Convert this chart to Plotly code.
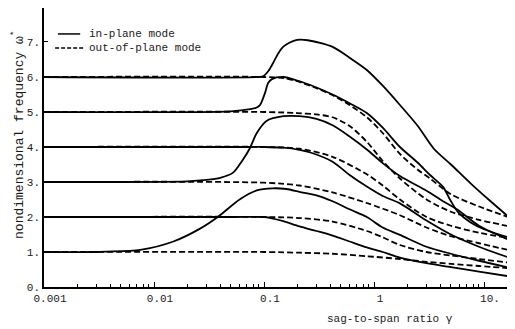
import plotly.graph_objects as go

# ---- in-plane modes (solid) ----
gamma_A = [0.001, 0.003, 0.0037, 0.0075, 0.015, 0.026, 0.038, 0.06, 0.086, 0.12, 0.16, 0.21, 0.3, 0.42, 0.6, 0.86, 1.2, 1.72, 3, 5, 9, 16.5]
freq_A = [1.0, 1.0, 1.01, 1.06, 1.3, 1.66, 2.0, 2.5, 2.76, 2.82, 2.8, 2.72, 2.62, 2.45, 2.22, 2.0, 1.7, 1.49, 1.15, 0.95, 0.75, 0.56]

gamma_B = [0.001, 0.05, 0.1, 0.115, 0.15, 0.21, 0.3, 0.42, 0.6, 0.86, 1.2, 1.72, 3, 5, 9, 16.5]
freq_B = [2.0, 2.0, 2.0, 1.97, 1.88, 1.73, 1.6, 1.47, 1.3, 1.13, 1.0, 0.84, 0.68, 0.57, 0.44, 0.31]

gamma_C = [0.001, 0.02, 0.03, 0.04, 0.052, 0.064, 0.074, 0.086, 0.106, 0.15, 0.21, 0.3, 0.42, 0.6, 0.86, 1.2, 1.72, 3, 4.24, 5.8, 9, 16.5]
freq_C = [3.0, 3.02, 3.06, 3.12, 3.26, 3.63, 3.95, 4.4, 4.75, 4.88, 4.88, 4.8, 4.62, 4.3, 3.93, 3.54, 3.17, 2.75, 2.45, 2.2, 1.75, 1.36]

gamma_D = [0.001, 0.07, 0.1, 0.15, 0.21, 0.26, 0.42, 0.6, 0.86, 1.2, 1.72, 3, 5, 9, 16.5]
freq_D = [4.0, 4.0, 4.0, 3.98, 3.92, 3.85, 3.58, 3.2, 2.87, 2.6, 2.39, 1.9, 1.5, 1.15, 0.85]

gamma_E = [0.001, 0.05, 0.075, 0.085, 0.092, 0.102, 0.109, 0.118, 0.15, 0.2, 0.3, 0.42, 0.6, 0.86, 1.2, 1.72, 2.5, 3.23, 4.24, 4.9, 5.8, 7.5, 10, 16.5]
freq_E = [5.0, 5.02, 5.08, 5.12, 5.2, 5.54, 5.83, 5.94, 6.0, 5.9, 5.7, 5.5, 5.25, 4.97, 4.55, 4.0, 3.55, 3.2, 2.86, 2.5, 2.14, 1.85, 1.65, 1.42]

gamma_F = [0.001, 0.09, 0.098, 0.11, 0.121, 0.135, 0.149, 0.17, 0.2, 0.25, 0.42, 0.6, 0.86, 1.2, 1.72, 2.5, 3.5, 5, 7.5, 11, 16.5]
freq_F = [6.0, 6.0, 6.02, 6.18, 6.4, 6.68, 6.86, 6.98, 7.06, 7.05, 6.86, 6.55, 6.2, 5.75, 5.2, 4.6, 3.95, 3.5, 2.97, 2.5, 2.02]

# ---- out-of-plane modes (dashed) ----
gamma_d1 = [0.001, 0.1, 0.21, 0.42, 0.86, 1.72, 3, 5, 9, 16.5]
freq_d1 = [1.0, 1.0, 0.98, 0.95, 0.88, 0.8, 0.72, 0.66, 0.6, 0.54]

gamma_d2 = [0.001, 0.1, 0.21, 0.42, 0.86, 1.2, 1.72, 3, 5, 9, 16.5]
freq_d2 = [2.0, 2.0, 1.97, 1.87, 1.6, 1.42, 1.2, 1.0, 0.9, 0.8, 0.7]

gamma_d3 = [0.001, 0.1, 0.21, 0.42, 0.86, 1.72, 3, 5, 9, 16.5]
freq_d3 = [3.0, 2.98, 2.9, 2.7, 2.4, 2.05, 1.7, 1.45, 1.25, 1.06]

gamma_d4 = [0.001, 0.1, 0.21, 0.42, 0.86, 1.2, 1.72, 3, 5, 9, 16.5]
freq_d4 = [4.0, 4.0, 3.95, 3.72, 3.22, 2.9, 2.5, 2.0, 1.75, 1.55, 1.4]

gamma_d5 = [0.001, 0.1, 0.2, 0.3, 0.42, 0.6, 0.86, 1.2, 1.72, 3, 5, 9, 16.5]
freq_d5 = [5.0, 5.0, 4.97, 4.93, 4.85, 4.6, 4.15, 3.6, 3.1, 2.5, 2.15, 1.92, 1.74]

gamma_d6 = [0.001, 0.1, 0.15, 0.2, 0.3, 0.42, 0.6, 0.86, 1.2, 1.72, 2.5, 3.23, 5, 9, 16.5]
freq_d6 = [6.0, 6.0, 5.97, 5.88, 5.68, 5.48, 5.2, 4.85, 4.4, 3.8, 3.35, 3.1, 2.65, 2.3, 2.0]

x_tick_vals = [0.001, 0.01, 0.1, 1, 10]
x_tick_text = ["0.001", "0.01", "0.1", "1", "10."]
y_tick_vals = [0, 1, 2, 3, 4, 5, 6, 7]
y_tick_text = ["0.", "1.", "2.", "3.", "4.", "5.", "6.", "7."]

solid = [(gamma_A, freq_A), (gamma_B, freq_B), (gamma_C, freq_C),
         (gamma_D, freq_D), (gamma_E, freq_E), (gamma_F, freq_F)]
dashed = [(gamma_d1, freq_d1), (gamma_d2, freq_d2), (gamma_d3, freq_d3),
          (gamma_d4, freq_d4), (gamma_d5, freq_d5), (gamma_d6, freq_d6)]

FONT = "Liberation Mono"
TXT = "#1a1a1a"
DASH = "6px,3px"
fig = go.Figure()

for gx, fy in dashed:
    fig.add_trace(go.Scatter(x=gx, y=fy, mode="lines", showlegend=False,
                             line=dict(color="black", width=1.8, dash=DASH, shape="spline", smoothing=0.8)))
for gx, fy in solid:
    fig.add_trace(go.Scatter(x=gx, y=fy, mode="lines", showlegend=False,
                             line=dict(color="black", width=1.8, shape="spline", smoothing=0.8)))

minor_vals = []
for dec in [0.001, 0.01, 0.1, 1, 10]:
    for m in range(2, 10):
        v = dec * m
        if v < 17:
            minor_vals.append(v)

# legend drawn as shapes + annotations (paper coordinates)
shapes = [
    dict(type="line", xref="paper", yref="paper", x0=0.030, x1=0.078, y0=0.907, y1=0.907,
         line=dict(color="black", width=1.5)),
    dict(type="line", xref="paper", yref="paper", x0=0.024, x1=0.088, y0=0.857, y1=0.857,
         line=dict(color="black", width=1.5, dash="4px,2px")),
]

fig.update_layout(
    width=507, height=321,
    margin=dict(l=36, r=7, t=0, b=42),
    paper_bgcolor="white", plot_bgcolor="white",
    font=dict(family=FONT, size=11, color=TXT),
    showlegend=False,
    shapes=shapes,
    xaxis=dict(type="log", range=[-3, 1.218], tickvals=x_tick_vals, ticktext=x_tick_text,
               ticks="inside", ticklen=5, tickwidth=1, tickcolor="black",
               ticklabelshift=6,
               showline=True, linecolor="black", linewidth=1.5,
               showgrid=False, zeroline=False,
               minor=dict(ticks="inside", ticklen=3, tickvals=minor_vals, tickcolor="black", showgrid=False)),
    yaxis=dict(range=[0, 7.971], tickvals=y_tick_vals, ticktext=y_tick_text,
               ticks="inside", ticklen=4, tickcolor="black",
               showline=True, linecolor="black", linewidth=1.5,
               showgrid=False, zeroline=False),
    annotations=[
        dict(text="in-plane mode", xref="paper", yref="paper", x=0.093, y=0.907,
             xanchor="left", yanchor="middle", showarrow=False, font=dict(family=FONT, size=11, color=TXT)),
        dict(text="out-of-plane mode", xref="paper", yref="paper", x=0.093, y=0.857,
             xanchor="left", yanchor="middle", showarrow=False, font=dict(family=FONT, size=11, color=TXT)),
        dict(text="sag-to-span ratio γ", xref="paper", yref="paper", x=0.746, y=-0.115,
             xanchor="center", yanchor="middle", showarrow=False,
             font=dict(family=FONT, size=11, color=TXT)),
        dict(text="nondimensional frequency ω<sup>*</sup>", xref="paper", yref="paper",
             x=-0.056, y=0.545, xanchor="center", yanchor="middle", textangle=-90,
             showarrow=False, font=dict(family=FONT, size=13, color=TXT)),
    ],
)

fig.write_html("out.html")
